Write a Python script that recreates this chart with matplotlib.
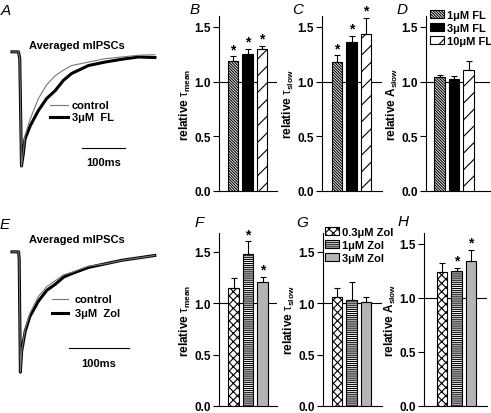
import matplotlib
matplotlib.use('Agg')
import matplotlib.pyplot as plt
import numpy as np

plt.rcParams['font.family'] = ['Liberation Sans', 'DejaVu Sans']
plt.rcParams['mathtext.fontset'] = 'custom'
plt.rcParams['mathtext.rm'] = 'Liberation Sans'
plt.rcParams['mathtext.bf'] = 'Liberation Sans:bold'
plt.rcParams['mathtext.it'] = 'Liberation Sans:italic'
plt.rcParams['hatch.linewidth'] = 0.8

# averaged mIPSC traces (normalized current, time in ms)
t_a = [0, 15, 18, 22, 26, 30, 42, 61, 80, 100, 119, 138, 177, 215, 254, 293, 331]
ctrl_a = [0, 0, -0.06, -1.0, -0.88, -0.735, -0.59, -0.41, -0.29, -0.21, -0.16, -0.12,
          -0.09, -0.06, -0.045, -0.03, -0.025]
fl_a = [0, 0, -0.06, -1.0, -0.9, -0.765, -0.65, -0.515, -0.41, -0.34, -0.25, -0.19,
        -0.12, -0.09, -0.065, -0.045, -0.05]

t_e = [0, 11, 12, 14, 16, 22, 30, 44, 58, 72, 86, 100, 127, 155, 183, 211, 238]
ctrl_e = [0, 0, -0.06, -1.0, -0.83, -0.64, -0.51, -0.37, -0.29, -0.24, -0.19, -0.17,
          -0.12, -0.10, -0.07, -0.05, -0.03]
zol_e = [0, 0, -0.06, -1.0, -0.83, -0.66, -0.535, -0.41, -0.32, -0.27, -0.21, -0.18,
         -0.13, -0.10, -0.07, -0.05, -0.03]

# bar data
fl_labels = ['1\u03bcM FL', '3\u03bcM FL', '10\u03bcM FL']
zol_labels = ['0.3\u03bcM Zol', '1\u03bcM Zol', '3\u03bcM Zol']

tau_mean_fl = [1.19, 1.255, 1.30]
tau_mean_fl_err = [0.04, 0.045, 0.03]
tau_mean_fl_sig = [True, True, True]

tau_slow_fl = [1.18, 1.36, 1.435]
tau_slow_fl_err = [0.06, 0.06, 0.15]
tau_slow_fl_sig = [True, True, True]

a_slow_fl = [1.04, 1.025, 1.11]
a_slow_fl_err = [0.02, 0.025, 0.075]
a_slow_fl_sig = [False, False, False]

tau_mean_zol = [1.147, 1.475, 1.20]
tau_mean_zol_err = [0.10, 0.125, 0.055]
tau_mean_zol_sig = [False, True, True]

tau_slow_zol = [1.06, 1.025, 1.01]
tau_slow_zol_err = [0.09, 0.18, 0.05]
tau_slow_zol_sig = [False, False, False]

a_slow_zol = [1.24, 1.25, 1.345]
a_slow_zol_err = [0.08, 0.03, 0.10]
a_slow_zol_sig = [False, True, True]

fl_colors = ['white', 'black', 'white']
fl_hatches = ['\\' * 12, None, '//']
zol_colors = ['white', 'white', '#b4b4b4']
zol_hatches = ['xxxx', '-' * 8, None]

W, H = 491, 414
fig = plt.figure(figsize=(W / 100, H / 100), dpi=100)


def rect(l, r, t, b):
    return [l / W, 1 - b / H, (r - l) / W, (b - t) / H]


def trace_panel(box, xlim, ylim, t, ctrl, drug, drug_label, texts):
    ax = fig.add_axes(rect(*box))
    ax.plot(t, ctrl, color='#777777', lw=0.8, zorder=2)
    ax.plot(t, drug, color='black', lw=2.2, zorder=1)
    ax.set_xlim(xlim)
    ax.set_ylim(ylim)
    ax.axis('off')
    title_xy, bar_x, bar_y, leg_x, leg_y, txt_x = texts
    ax.text(*title_xy, 'Averaged mIPSCs', ha='center', va='center',
            fontsize=8, fontweight='bold')
    ax.plot(bar_x, [bar_y, bar_y], color='black', lw=0.8)
    ax.text(np.mean(bar_x), bar_y - 0.12, '100ms', ha='center', va='center',
            fontsize=8, fontweight='bold')
    ax.plot(leg_x, [leg_y[0], leg_y[0]], color='#777777', lw=0.8)
    ax.plot(leg_x, [leg_y[1], leg_y[1]], color='black', lw=2.2)
    ax.text(txt_x, leg_y[0], 'control', va='center', fontsize=8, fontweight='bold')
    ax.text(txt_x, leg_y[1], drug_label, va='center', fontsize=8, fontweight='bold')
    return ax


trace_panel((10, 160, 30, 180), (-4.6, 342.7), (-1.114, 0.2), t_a, ctrl_a, fl_a,
            '3\u03bcM  FL',
            ((150, 0.061), [162, 262], -0.842, [88, 130], [-0.465, -0.57], 139))
trace_panel((10, 160, 230, 390), (-3.3, 246.7), (-1.14, 0.19), t_e, ctrl_e, zol_e,
            '3\u03bcM  Zol',
            ((108, 0.108), [95, 195], -0.8, [67, 93], [-0.392, -0.508], 105))


def bar_panel(l, r, t, b, ymax, off, vals, errs, sig, colors, hatches, ylabel):
    ax = fig.add_axes(rect(l, r, t, b))
    s = 14.5
    xmin = -off / s
    ax.set_xlim(xmin, xmin + (r - l) / s)
    ax.set_ylim(0, ymax)
    ax.axhline(1.0, color='black', lw=0.8, zorder=1)
    x = np.arange(3)
    bars = ax.bar(x, vals, width=0.7, color=colors, edgecolor='black', lw=0.8, zorder=3)
    for bar, h in zip(bars, hatches):
        if h:
            bar.set_hatch(h)
    ax.errorbar(x, vals, yerr=[np.zeros(3), errs], fmt='none', ecolor='black',
                elinewidth=0.8, capsize=2, capthick=0.8, zorder=4)
    for xi, v, e, sg in zip(x, vals, errs, sig):
        if sg:
            ax.annotate('*', (xi, v + e), xytext=(0, 0), textcoords='offset points',
                        ha='center', va='bottom', fontsize=10, fontweight='bold')
    for sp in ['top', 'right']:
        ax.spines[sp].set_visible(False)
    ax.spines['left'].set_linewidth(0.8)
    ax.spines['bottom'].set_linewidth(0.8)
    ax.set_xticks([])
    ax.set_yticks([0, 0.5, 1.0, 1.5])
    ax.set_yticklabels(['0.0', '0.5', '1.0', '1.5'], fontsize=8.5, fontweight='bold')
    ax.tick_params(axis='y', direction='out', length=4, width=0.8, pad=2)
    ax.set_ylabel(ylabel, fontsize=8.5, fontweight='bold', labelpad=1)
    return ax, bars


lab_tm = r'relative $\mathrm{\tau}_{\mathbf{mean}}$'
lab_ts = r'relative $\mathrm{\tau}_{\mathbf{slow}}$'
lab_as = r'relative A$_{\mathbf{slow}}$'

bar_panel(219, 277, 17, 192, 1.6, 14, tau_mean_fl, tau_mean_fl_err, tau_mean_fl_sig,
          fl_colors, fl_hatches, lab_tm)
bar_panel(322, 382, 17, 192, 1.6, 15, tau_slow_fl, tau_slow_fl_err, tau_slow_fl_sig,
          fl_colors, fl_hatches, lab_ts)
axd, bars_d = bar_panel(426, 490, 17, 192, 1.6, 13.5, a_slow_fl, a_slow_fl_err,
                        a_slow_fl_sig, fl_colors, fl_hatches, lab_as)

bar_panel(219, 277, 234, 407, 1.68, 14.5, tau_mean_zol, tau_mean_zol_err,
          tau_mean_zol_sig, zol_colors, zol_hatches, lab_tm)
axg, bars_g = bar_panel(323, 382, 234, 407, 1.68, 14, tau_slow_zol, tau_slow_zol_err,
                        tau_slow_zol_sig, zol_colors, zol_hatches, lab_ts)
bar_panel(424, 487, 234, 407, 1.6, 18, a_slow_zol, a_slow_zol_err, a_slow_zol_sig,
          zol_colors, zol_hatches, lab_as)

leg_kw = dict(frameon=False, handlelength=1.3, handleheight=0.7, handletextpad=0.2,
              labelspacing=0.25, borderpad=0, borderaxespad=0,
              prop={'size': 8, 'weight': 'bold'}, loc='upper left',
              bbox_transform=fig.transFigure)
fig.legend(bars_d, fl_labels, bbox_to_anchor=(430 / W, 1 - 11 / H), **leg_kw)
fig.legend(bars_g, zol_labels, bbox_to_anchor=(325 / W, 1 - 228 / H), **leg_kw)

letters = [('A', 6, 11), ('B', 195, 10), ('C', 298, 10), ('D', 402, 10),
           ('E', 5, 225), ('F', 199, 223), ('G', 302, 223), ('H', 403, 222)]
for s, x, y in letters:
    fig.text(x / W, 1 - y / H, s, ha='center', va='center', fontsize=11,
             style='italic')

fig.savefig('out.png', dpi=100)
